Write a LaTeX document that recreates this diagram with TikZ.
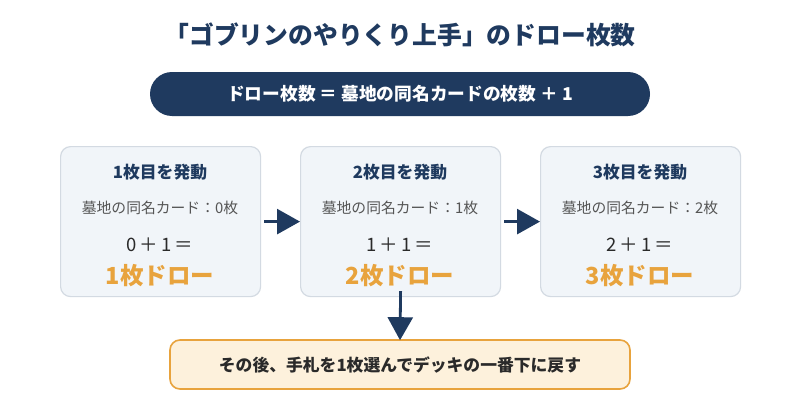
\documentclass[tikz,border=0pt]{standalone}
\usepackage{fontspec}
\setmainfont{Noto Sans CJK JP}
\usetikzlibrary{arrows.meta}
\definecolor{navy}{HTML}{1F3A5F}
\definecolor{boxfill}{HTML}{F1F5F9}
\definecolor{boxline}{HTML}{D3DAE2}
\definecolor{orange}{HTML}{E8A33D}
\definecolor{cream}{HTML}{FDF1DC}
\definecolor{subgray}{HTML}{555555}
\definecolor{dark}{HTML}{2A2A2A}
\begin{document}
\begin{tikzpicture}[x=1pt,y=-1pt,
  stepbox/.style={draw=boxline,line width=1.2pt,fill=boxfill,rounded corners=10pt,minimum width=200pt,minimum height=150pt,anchor=north west},
  boxtitle/.style={font=\fontsize{16.8}{20}\selectfont\bfseries,text=navy},
  boxsub/.style={font=\fontsize{14.8}{18}\selectfont,text=subgray},
  boxcalc/.style={font=\fontsize{18.5}{22}\selectfont,text=dark},
  boxdraw/.style={font=\fontsize{23.5}{28}\selectfont\bfseries,text=orange},
  flow/.style={draw=navy,line width=2.8pt,-{Triangle[length=23pt,width=25pt]}}]
\useasboundingbox (0,0) rectangle (800,420);
\fill[white] (0,0) rectangle (800,420);
\node[font=\fontsize{24.8}{30}\selectfont\bfseries,text=navy] (title) at (400,35) {「ゴブリンのやりくり上手」のドロー枚数};
\node[fill=navy,rounded corners=22pt,minimum width=500pt,minimum height=44pt,font=\fontsize{17.7}{21}\selectfont\bfseries,text=white] (formula) at (400,94) {ドロー枚数 ＝ 墓地の同名カードの枚数 ＋ 1};
\foreach \i/\x/\n/\m in {1/60/0/1,2/300/1/2,3/540/2/3}{
  \node[stepbox] (box\i) at (\x,146) {};
  \node[boxtitle] (t\i) at (\x+100,172) {\m 枚目を発動};
  \node[boxsub] (s\i) at (\x+100,208) {墓地の同名カード：\n 枚};
  \node[boxcalc] (c\i) at (\x+100,245) {\n\,＋\,1\,＝};
  \node[boxdraw] (d\i) at (\x+100,276) {\m 枚ドロー};
}
\draw[flow] ([xshift=3pt]box1.east) -- (box2.west);
\draw[flow] ([xshift=3pt]box2.east) -- (box3.west);
\node[draw=orange,line width=1.6pt,fill=cream,rounded corners=10pt,minimum width=460pt,minimum height=49pt,font=\fontsize{16.8}{20}\selectfont\bfseries,text=dark] (after) at (400,364.5) {その後、手札を1枚選んでデッキの一番下に戻す};
\draw[flow] ([yshift=6pt]box2.south) -- ([yshift=-1pt]after.north);
\end{tikzpicture}
\end{document}
